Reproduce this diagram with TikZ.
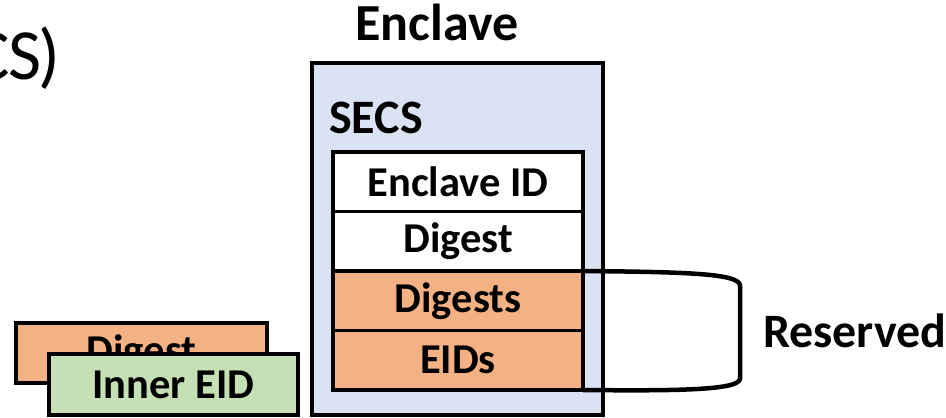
\documentclass[tikz,border=0pt]{standalone}
\usepackage{fontspec}
\setmainfont{Carlito}
\definecolor{enclavefill}{HTML}{DAE3F3}
\definecolor{orangefill}{HTML}{F4B183}
\definecolor{greenfill}{HTML}{C5E0B4}
\tikzset{
  box/.style={draw=black, line width=3.5pt, inner sep=0pt, outer sep=0pt},
  field/.style={box, minimum width=250pt, minimum height=59.5pt,
    font=\fontsize{42.5}{48}\selectfont\bfseries},
  bigtitle/.style={font=\fontsize{48}{54}\selectfont\bfseries, inner sep=0pt},
}
\begin{document}
\begin{tikzpicture}[x=1pt,y=-1pt]
\useasboundingbox (0,0) rectangle (946,418);
\clip (0,0) rectangle (946,418);

% left fragment of the heading
\node[font=\fontsize{72}{80}\selectfont, anchor=base east, inner sep=0pt] (head) at (61,79) {C\kern-1ptS\kern-3pt)};

% enclave container
\node[box, fill=enclavefill, minimum width=291pt, minimum height=352pt, anchor=north west] (enclave) at (312,63) {};
\node[bigtitle, font=\fontsize{52}{58}\selectfont\bfseries, anchor=base] (title) at (437,40) {Enclave};
\node[bigtitle, anchor=base west] (secs) at (329,133) {SECS};

% SECS fields
\node[field, fill=white, anchor=north west] (eid) at (333,152) {Enclave ID};
\node[field, fill=white, anchor=north] (dig) at (eid.south) {Digest};
\node[field, fill=orangefill, anchor=north] (digs) at (dig.south) {Digests};
\node[field, fill=orangefill, anchor=north] (eids) at (digs.south) {EIDs};

% bracket for the reserved fields
\coordinate (rt) at (740,285);
\coordinate (rb) at (740,379);
\draw[line width=4.5pt, line join=round]
  (digs.north east) .. controls (680,272) and (738,273) .. (rt)
  -- (rb) .. controls (738,390) and (680,391) .. (eids.south east);
\node[bigtitle, anchor=base west] (res) at (763,347) {Reserved};

% stacked entries at the lower left
\node[field, fill=orangefill, minimum width=251pt, minimum height=60pt, anchor=north west] (backdig) at (16,323) {Digest};
\node[field, fill=greenfill, minimum width=249pt, minimum height=61pt, anchor=north west] (inner) at (49,354) {Inner EID};
\end{tikzpicture}
\end{document}
